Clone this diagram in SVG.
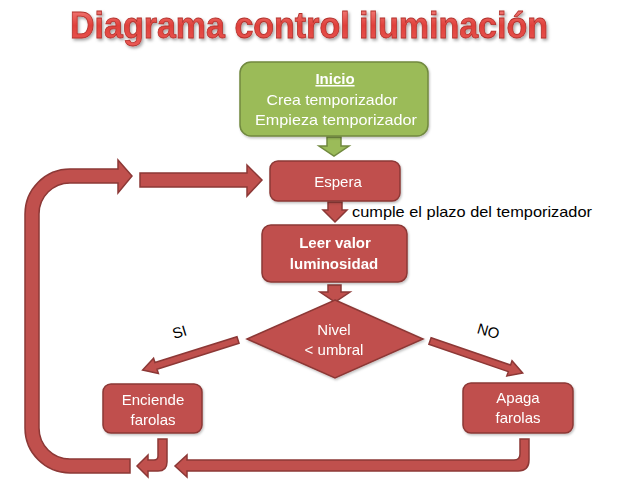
<svg xmlns="http://www.w3.org/2000/svg" width="620" height="494" viewBox="0 0 620 494">
<defs>
<linearGradient id="tg" x1="0" y1="0" x2="0" y2="1">
<stop offset="0" stop-color="#F68A86"/>
<stop offset="0.5" stop-color="#E0403B"/>
<stop offset="1" stop-color="#EA5A55"/>
</linearGradient>
<filter id="sh" x="-10%" y="-30%" width="120%" height="160%">
<feDropShadow dx="1.5" dy="2" stdDeviation="1.5" flood-color="#000" flood-opacity="0.35"/>
</filter>
<filter id="bs" x="-10%" y="-10%" width="125%" height="130%">
<feDropShadow dx="1" dy="1.5" stdDeviation="1" flood-color="#000" flood-opacity="0.25"/>
</filter>
</defs>
<style>
.red{fill:#C0504D;stroke:#8C3836;stroke-width:1.5}
.grn{fill:#9BBB59;stroke:#71893F;stroke-width:1.5}
.wt{fill:#FFFFFF;font-family:"Liberation Sans",Arial,sans-serif;font-size:15px;text-anchor:middle}
.bk{fill:#000000;font-family:"Liberation Sans",Arial,sans-serif;font-size:15px}
.b{font-weight:bold}
.title{font-family:"Liberation Sans",Arial,sans-serif;font-weight:bold;font-size:36px;fill:url(#tg);stroke:#B3312C;stroke-width:0.8}
</style>
<rect width="620" height="494" fill="#FFFFFF"/>
<text class="title" x="70" y="38" textLength="478" lengthAdjust="spacingAndGlyphs" filter="url(#sh)">Diagrama control iluminación</text>

<g id="connectors">
<path class="red" d="M130,459 L130,473 L70,473 A45,45 0 0 1 25,428 L25,214 A45,45 0 0 1 70,169 L118,169 L118,160 L132,176 L118,193 L118,183 L70,183 A31,31 0 0 0 39,214 L39,428 A31,31 0 0 0 70,459 Z"/>
<path class="red" d="M140,173 L247,173 L247,165 L262,180 L247,196 L247,187 L140,187 Z"/>
<path class="grn" d="M327,137 L341,137 L341,146 L349,146 L334,156 L319,146 L327,146 Z"/>
<path class="red" d="M328,202 L342,202 L342,210 L347,210 L335,222 L323,210 L328,210 Z"/>
<path class="red" d="M328,285 L341,285 L341,292 L350,292 L335,302 L320,292 L328,292 Z"/>
<path class="red" transform="translate(238,340) rotate(162.5)" d="M0,-3.5 L86,-3.5 L86,-8 L100,0 L86,8 L86,3.5 L0,3.5 Z"/>
<path class="red" transform="translate(430,341) rotate(19)" d="M0,-3.5 L84,-3.5 L84,-8 L98,0 L84,8 L84,3.5 L0,3.5 Z"/>
<path class="red" d="M158,439 L167,439 L167,462 Q167,471 158,471 L148,471 L148,477 L137,466 L148,455 L148,460 L154,460 Q158,460 158,456 Z"/>
<path class="red" d="M520,439 L529,439 L529,460 Q529,471 518,471 L187,471 L187,477 L175,466 L187,455 L187,460 L514,460 Q520,460 520,454 Z"/>
<text class="bk" transform="translate(181,337) rotate(-17)" text-anchor="middle">SI</text>
<text class="bk" transform="translate(487,336) rotate(16)" text-anchor="middle">NO</text>
<text class="bk" x="352" y="217" textLength="240" lengthAdjust="spacingAndGlyphs">cumple el plazo del temporizador</text>
</g>

<g id="inicio" filter="url(#bs)">
<rect class="grn" x="240" y="62" width="188" height="74" rx="11"/>
<text class="wt b" x="335" y="84" text-decoration="underline">Inicio</text>
<text class="wt" x="332" y="105" textLength="131" lengthAdjust="spacingAndGlyphs">Crea temporizador</text>
<text class="wt" x="336" y="125" textLength="162" lengthAdjust="spacingAndGlyphs">Empieza temporizador</text>
</g>

<g id="espera" filter="url(#bs)">
<rect class="red" x="270" y="161" width="130" height="40" rx="8"/>
<text class="wt" x="338" y="187">Espera</text>
</g>

<g id="leer" filter="url(#bs)">
<rect class="red" x="262" y="225" width="145" height="57" rx="9"/>
<text class="wt b" x="335" y="248">Leer valor</text>
<text class="wt b" x="334" y="269">luminosidad</text>
</g>

<g id="nivel" filter="url(#bs)">
<polygon class="red" points="335,300 423,339 335,378 247,339"/>
<text class="wt" x="334" y="335">Nivel</text>
<text class="wt" x="334" y="355">&lt; umbral</text>
</g>

<g id="enciende" filter="url(#bs)">
<rect class="red" x="103" y="384" width="99" height="49" rx="8"/>
<text class="wt" x="153" y="405">Enciende</text>
<text class="wt" x="153" y="425">farolas</text>
</g>

<g id="apaga" filter="url(#bs)">
<rect class="red" x="463" y="383" width="110" height="50" rx="8"/>
<text class="wt" x="518" y="403">Apaga</text>
<text class="wt" x="518" y="423">farolas</text>
</g>
</svg>
